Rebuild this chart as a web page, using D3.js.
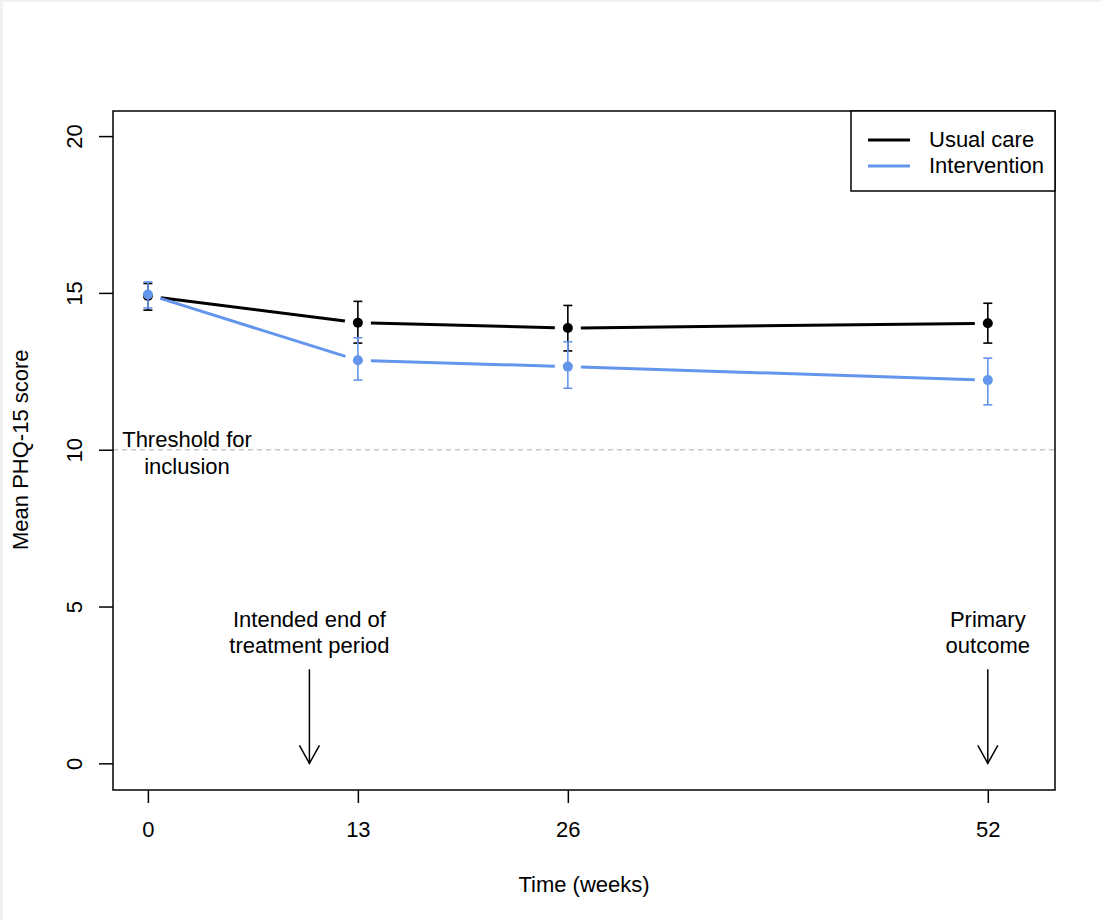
<!DOCTYPE html>
<html>
<head>
<meta charset="utf-8">
<script src="https://cdn.jsdelivr.net/npm/d3@7"></script>
<style>
  html, body { margin: 0; padding: 0; background: #f0f0f0; }
  svg { display: block; }
  text { font-family: "Liberation Sans", Arial, sans-serif; fill: #000; }
</style>
</head>
<body>
<script>
// Data
const weeks = [0, 13, 26, 52];
const usualCare = [14.9, 14.05, 13.88, 14.03];
const usualCareLo = [14.45, 13.4, 13.15, 13.4];
const usualCareHi = [15.3, 14.73, 14.6, 14.67];
const intervention = [14.95, 12.85, 12.65, 12.22];
const interventionLo = [14.52, 12.22, 11.96, 11.43];
const interventionHi = [15.35, 13.57, 13.44, 12.92];
const xTicks = [0, 13, 26, 52];
const yTicks = [0, 5, 10, 15, 20];
const threshold = 10;
const annotations = [
  { week: 10, lines: ["Intended end of", "treatment period"] },
  { week: 52, lines: ["Primary", "outcome"] }
];

const width = 1101, height = 920;
const margin = { top: 111, right: 46, bottom: 130, left: 113 };
const fs = 22; // font size

const svg = d3.select("body").append("svg")
  .attr("width", width)
  .attr("height", height);

// white page, with the thin grey frame at top/left
svg.append("rect")
  .attr("x", 3).attr("y", 2)
  .attr("width", width - 3).attr("height", height - 2)
  .attr("fill", "#fff");

const x = d3.scaleLinear()
  .domain([-2.16, 56.16])
  .range([margin.left, width - margin.right]);

const y = d3.scaleLinear()
  .domain([-0.85, 20.8])
  .range([height - margin.bottom, margin.top]);

// dashed threshold line
svg.append("line")
  .attr("x1", x.range()[0]).attr("x2", x.range()[1])
  .attr("y1", y(threshold)).attr("y2", y(threshold))
  .attr("stroke", "#c8c8c8")
  .attr("stroke-width", 1.6)
  .attr("stroke-dasharray", "5,4");

svg.append("text")
  .attr("x", 187).attr("y", y(threshold) - 3)
  .attr("text-anchor", "middle")
  .attr("font-size", fs)
  .selectAll("tspan")
  .data(["Threshold for", "inclusion"])
  .join("tspan")
  .attr("x", 187)
  .attr("dy", (d, i) => i === 0 ? 0 : 27)
  .text(d => d);

// series lines with gaps round the points (like R type="b")
function drawSeries(vals, lo, hi, color) {
  const gap = 13;
  for (let i = 0; i < weeks.length - 1; i++) {
    const x0 = x(weeks[i]), y0 = y(vals[i]);
    const x1 = x(weeks[i + 1]), y1 = y(vals[i + 1]);
    const len = Math.hypot(x1 - x0, y1 - y0);
    const ux = (x1 - x0) / len, uy = (y1 - y0) / len;
    svg.append("line")
      .attr("x1", x0 + ux * gap).attr("y1", y0 + uy * gap)
      .attr("x2", x1 - ux * gap).attr("y2", y1 - uy * gap)
      .attr("stroke", color)
      .attr("stroke-width", 3);
  }

  const g = svg.append("g");
  weeks.forEach((w, i) => {
    const cx = x(w);
    g.append("line")
      .attr("x1", cx).attr("x2", cx)
      .attr("y1", y(lo[i])).attr("y2", y(hi[i]))
      .attr("stroke", color).attr("stroke-width", 1.6);
    [lo[i], hi[i]].forEach(v => {
      g.append("line")
        .attr("x1", cx - 4.5).attr("x2", cx + 4.5)
        .attr("y1", y(v)).attr("y2", y(v))
        .attr("stroke", color).attr("stroke-width", 1.6);
    });
    g.append("circle")
      .attr("cx", cx).attr("cy", y(vals[i]))
      .attr("r", 5)
      .attr("fill", color);
  });
}

drawSeries(usualCare, usualCareLo, usualCareHi, "#000");
drawSeries(intervention, interventionLo, interventionHi, "cornflowerblue");

// annotations with arrows
annotations.forEach(a => {
  const ax = x(a.week);
  const t = svg.append("text")
    .attr("text-anchor", "middle")
    .attr("font-size", fs)
    .attr("y", 627);
  t.selectAll("tspan")
    .data(a.lines)
    .join("tspan")
    .attr("x", ax)
    .attr("dy", (d, i) => i === 0 ? 0 : 26)
    .text(d => d);

  const yTop = y(3), yEnd = y(0);
  svg.append("line")
    .attr("x1", ax).attr("x2", ax)
    .attr("y1", yTop).attr("y2", yEnd)
    .attr("stroke", "#000").attr("stroke-width", 1.5);
  svg.append("path")
    .attr("d", `M${ax - 10},${yEnd - 18}L${ax},${yEnd}L${ax + 10},${yEnd - 18}`)
    .attr("fill", "none")
    .attr("stroke", "#000").attr("stroke-width", 1.5);
});

// plot frame
svg.append("rect")
  .attr("x", x.range()[0]).attr("y", y.range()[1])
  .attr("width", x.range()[1] - x.range()[0])
  .attr("height", y.range()[0] - y.range()[1])
  .attr("fill", "none")
  .attr("stroke", "#000")
  .attr("stroke-width", 1.5);

// x axis
const xAxis = svg.append("g")
  .attr("transform", `translate(0,${height - margin.bottom})`)
  .call(d3.axisBottom(x).tickValues(xTicks).tickSize(13).tickPadding(18));
xAxis.select(".domain").remove();
xAxis.selectAll("line").attr("stroke-width", 1.5);
xAxis.selectAll("text")
  .attr("font-size", fs)
  .attr("font-family", "Liberation Sans, Arial, sans-serif");

// y axis
const yAxis = svg.append("g")
  .attr("transform", `translate(${margin.left},0)`)
  .call(d3.axisLeft(y).tickValues(yTicks).tickSize(14));
yAxis.select(".domain").remove();
yAxis.selectAll("line").attr("stroke-width", 1.5);
yAxis.selectAll("text")
  .attr("x", null).attr("dy", null)
  .attr("transform", "translate(-31,0) rotate(-90)")
  .attr("text-anchor", "middle")
  .attr("font-size", fs)
  .attr("font-family", "Liberation Sans, Arial, sans-serif");

// axis titles
svg.append("text")
  .attr("x", (x.range()[0] + x.range()[1]) / 2)
  .attr("y", 892)
  .attr("text-anchor", "middle")
  .attr("font-size", fs)
  .text("Time (weeks)");

svg.append("text")
  .attr("transform", `translate(28,${y(10)}) rotate(-90)`)
  .attr("text-anchor", "middle")
  .attr("font-size", fs)
  .text("Mean PHQ-15 score");

// legend
const legend = svg.append("g");
legend.append("rect")
  .attr("x", 851).attr("y", y.range()[1])
  .attr("width", x.range()[1] - 851).attr("height", 80)
  .attr("fill", "#fff")
  .attr("stroke", "#000").attr("stroke-width", 1.5);
const legendItems = [
  { name: "Usual care", color: "#000" },
  { name: "Intervention", color: "cornflowerblue" }
];
legendItems.forEach((d, i) => {
  const ly = 140 + i * 26;
  legend.append("line")
    .attr("x1", 868).attr("x2", 910)
    .attr("y1", ly).attr("y2", ly)
    .attr("stroke", d.color).attr("stroke-width", 3);
  legend.append("text")
    .attr("x", 929).attr("y", ly + 7)
    .attr("font-size", fs)
    .text(d.name);
});
</script>
</body>
</html>
